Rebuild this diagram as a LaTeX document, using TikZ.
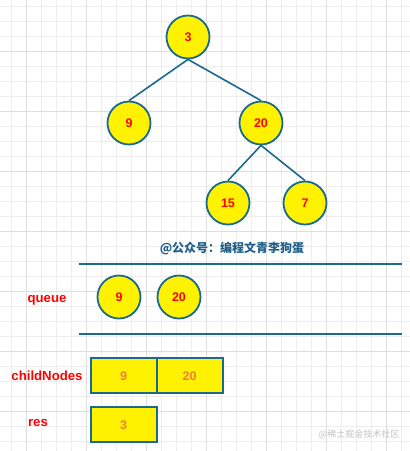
\documentclass[tikz,border=0pt]{standalone}
\usepackage{fontspec}
\setmainfont{Liberation Sans}
\newfontfamily\cjk{Noto Sans CJK SC}
\definecolor{edgec}{HTML}{1A6A8E}
\definecolor{titlec}{HTML}{1F5F8A}
\definecolor{boxtxt}{HTML}{F07F3A}
\definecolor{gridminor}{HTML}{EDEDED}
\definecolor{gridmajor}{HTML}{DEDEDE}
\definecolor{wmark}{HTML}{C4C4C4}
\begin{document}
\begin{tikzpicture}[x=1pt,y=-1pt,
  tn/.style={circle,draw=edgec,line width=1.8pt,fill=yellow,minimum size=43pt,inner sep=0pt,text=red,font=\bfseries\fontsize{12.5}{14}\selectfont},
  cell/.style={rectangle,draw=edgec,line width=1.8pt,fill=yellow,minimum width=66pt,minimum height=35pt,inner sep=0pt,text=boxtxt,font=\bfseries\fontsize{12.5}{14}\selectfont},
  lbl/.style={text=red,font=\bfseries\fontsize{13.2}{15}\selectfont,inner sep=0pt},
  edge/.style={draw=edgec,line width=1.6pt},
  rule/.style={draw=edgec,line width=2pt}]
\useasboundingbox (0,0) rectangle (410,451);
\fill[white] (0,0) rectangle (410,451);
% grid
\foreach \i in {0,...,26} {\draw[gridminor,line width=0.8pt] ({11.7+15*\i},0) -- ({11.7+15*\i},451);}
\foreach \i in {0,...,29} {\draw[gridminor,line width=0.8pt] (0,{6.7+15*\i}) -- (410,{6.7+15*\i});}
\foreach \i in {0,...,6} {\draw[gridmajor,line width=0.9pt] ({26.7+60*\i},0) -- ({26.7+60*\i},451);}
\foreach \i in {0,...,6} {\draw[gridmajor,line width=0.9pt] (0,{51.7+60*\i}) -- (410,{51.7+60*\i});}
% tree
\node[tn] (n3) at (188,37) {3};
\node[tn] (n9) at (129,123) {9};
\node[tn] (n20) at (261,123) {20};
\node[tn] (n15) at (228,203) {15};
\node[tn] (n7) at (305,203) {7};
\draw[edge] (n3.south) -- (n9.north);
\draw[edge] (n3.south) -- (n20.north);
\draw[edge] (n20.south) -- (n15.north);
\draw[edge] (n20.south) -- (n7.north);
% title
\node[text=titlec,font=\cjk\bfseries\fontsize{12}{14}\selectfont] (title) at (232,248) {@公众号：编程文青李狗蛋};
% queue
\coordinate (q1a) at (79,263.5);
\coordinate (q1b) at (402,263.5);
\coordinate (q2a) at (79,333.5);
\coordinate (q2b) at (402,333.5);
\draw[rule] (q1a) -- (q1b);
\draw[rule] (q2a) -- (q2b);
\node[lbl] (lq) at (47,300) {queue};
\node[tn] (q9) at (119,297) {9};
\node[tn] (q20) at (179,297) {20};
% childNodes
\node[lbl] (lc) at (47,376) {childNodes};
\node[cell] (c9) at (123.7,375.8) {9};
\node[cell] (c20) at (189.7,375.8) {20};
% res
\node[lbl] (lr) at (38,423) {res};
\node[cell] (r3) at (123.7,424.8) {3};
% watermark
\node[text=wmark,font=\cjk\fontsize{9}{11}\selectfont] (wm) at (359,434) {@稀土掘金技术社区};
\end{tikzpicture}
\end{document}
